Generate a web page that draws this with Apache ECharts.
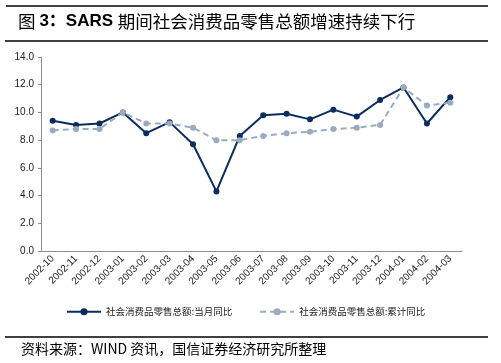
<!DOCTYPE html>
<html><head><meta charset="utf-8">
<script src="https://cdn.jsdelivr.net/npm/echarts@6/dist/echarts.min.js"></script>
<style>html,body{margin:0;padding:0;background:#fff;}#c{width:501px;height:363px;}</style>
</head><body><div id="c"></div>
<script>
const categories = ['2002-10','2002-11','2002-12','2003-01','2003-02','2003-03','2003-04','2003-05','2003-06','2003-07','2003-08','2003-09','2003-10','2003-11','2003-12','2004-01','2004-02','2004-03'];
const monthly = [9.4,9.1,9.2,10.0,8.5,9.3,7.7,4.3,8.3,9.8,9.9,9.5,10.2,9.7,10.9,11.8,9.2,11.1];
const cumulative = [8.7,8.8,8.8,10.0,9.2,9.2,8.9,8.0,8.0,8.3,8.5,8.6,8.8,8.9,9.1,11.8,10.5,10.7];
const seriesNames = ['社会消费品零售总额:当月同比','社会消费品零售总额:累计同比'];
const yTicks = {min:0, max:14, interval:2};
const sourceText = '资料来源：WIND 资讯，国信证券经济研究所整理';

const chart = echarts.init(document.getElementById('c'), null, {renderer:'canvas'});
const font = 'Arial, "Liberation Sans", "Noto Sans CJK SC", sans-serif';
chart.setOption({
  animation:false,
  backgroundColor:'#fff',
  textStyle:{fontFamily:font},
  grid:{left:41, right:39, top:57, bottom:112},
  graphic:[
    {type:'line', shape:{x1:6,y1:6,x2:488,y2:6}, style:{stroke:'#000',lineWidth:1.5}},
    {type:'line', shape:{x1:5,y1:41,x2:488,y2:41}, style:{stroke:'#000',lineWidth:1.5}},
    {type:'line', shape:{x1:5,y1:337,x2:488,y2:337}, style:{stroke:'#000',lineWidth:1.5}},
    {type:'text', left:18, top:13, style:{
      text:'{a|图 }{b|3：SARS }{a|期间社会消费品零售总额增速持续下行}',
      rich:{
        a:{fontSize:17.5, fontFamily:'"Noto Sans CJK SC", sans-serif', fill:'#000'},
        b:{fontSize:17, fontWeight:'bold', fontFamily:'Arial, "Liberation Sans", "Noto Sans CJK SC", sans-serif', fill:'#000'}
      }
    }},
    {type:'text', left:21, top:342, style:{text:sourceText, fontSize:14, fill:'#000', fontFamily:'"Noto Sans CJK SC", sans-serif'}}
  ],
  legend:{
    left:61, top:302, itemWidth:34, itemHeight:9, itemGap:27,
    textStyle:{fontSize:9.5, color:'#222', fontFamily:'"Noto Sans CJK SC", sans-serif'},
    data:seriesNames
  },
  xAxis:{
    type:'category', data:categories, boundaryGap:true,
    axisLine:{lineStyle:{color:'#8c8c8c'}},
    axisTick:{alignWithLabel:false, length:4, lineStyle:{color:'#8c8c8c'}},
    axisLabel:{rotate:45, fontSize:10, color:'#222', margin:6, interval:0, fontFamily:font}
  },
  yAxis:{
    type:'value', min:yTicks.min, max:yTicks.max, interval:yTicks.interval,
    splitLine:{show:false},
    axisLine:{show:true, lineStyle:{color:'#8c8c8c'}},
    axisTick:{show:true, length:3, lineStyle:{color:'#8c8c8c'}},
    axisLabel:{fontSize:10, color:'#222', margin:7, formatter:v=>v.toFixed(1), fontFamily:font}
  },
  series:[
    {name:seriesNames[0], type:'line', data:monthly, symbol:'circle', symbolSize:6,
     itemStyle:{color:'#0a2d5f'}, lineStyle:{color:'#0a2d5f', width:2}},
    {name:seriesNames[1], type:'line', data:cumulative, symbol:'circle', symbolSize:6,
     itemStyle:{color:'#9aabbf'}, lineStyle:{color:'#9aabbf', width:2, type:[6,4]}}
  ]
});
</script></body></html>
